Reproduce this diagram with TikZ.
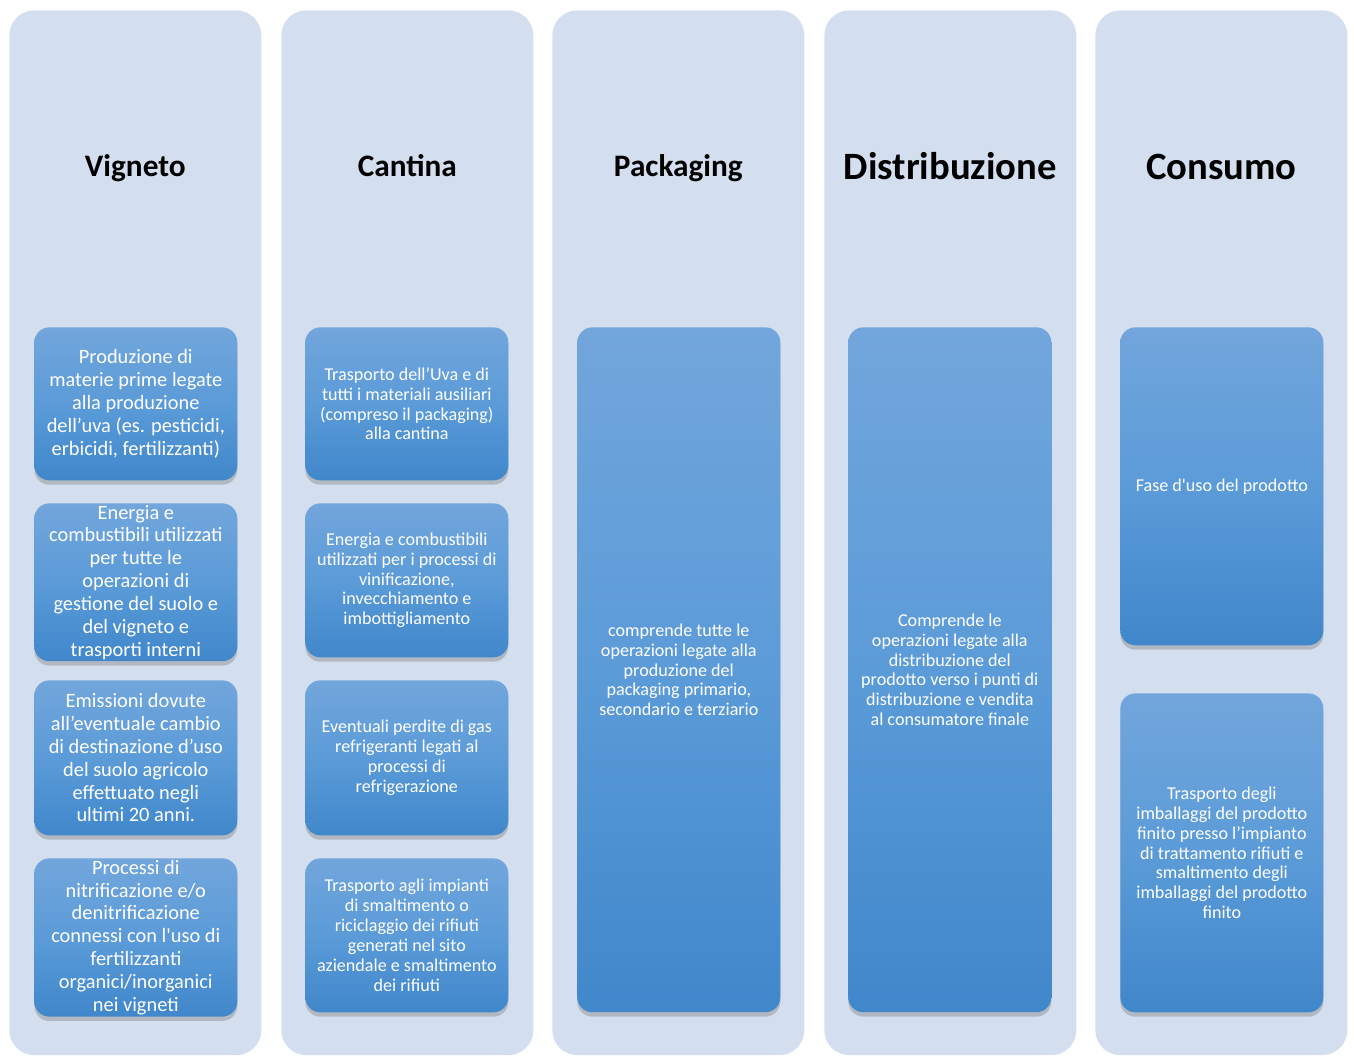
\documentclass[tikz,border=0pt]{standalone}
\usepackage{fontspec}
\setmainfont{Carlito}
\usetikzlibrary{shadows}
\definecolor{colbg}{HTML}{D3DEEF}
\definecolor{boxtop}{HTML}{72A6DC}
\definecolor{boxmid}{HTML}{5B9BD8}
\definecolor{boxbot}{HTML}{4087CB}
\begin{document}
\begin{tikzpicture}[x=0.02cm, y=-0.02cm,
    col/.style={fill=colbg, rounded corners=0.5cm, anchor=north west,
      minimum width=5.04cm, minimum height=20.9cm},
    colname/.style={anchor=base, font=\bfseries\fontsize{17.8}{21}\selectfont},
    bigname/.style={colname, font=\bfseries\fontsize{22}{26}\selectfont},
    box/.style={anchor=north west, rounded corners=0.3cm, top color=boxtop,
      bottom color=boxbot, middle color=boxmid, text=white, align=center,
      minimum width=4.06cm, inner sep=1pt,
      drop shadow={opacity=0.4, shadow xshift=0pt, shadow yshift=-2.5pt},
      font=\fontsize{10.3}{11.3}\selectfont},
    vbox/.style={box, font=\fontsize{11.6}{13}\selectfont},]
  \useasboundingbox (0,0) rectangle (1354,1057);
  \node[col] (V) at (9,10) {};
  \node[col] (C) at (281,10) {};
  \node[col] (P) at (552,10) {};
  \node[col] (D) at (824,10) {};
  \node[col] (K) at (1095,10) {};
  \path (V.north) ++(0,167) node[colname] (Vn) {Vigneto};
  \path (C.north) ++(0,167) node[colname] (Cn) {Cantina};
  \path (P.north) ++(0,167) node[colname] (Pn) {Packaging};
  \path (D.north) ++(0,170) node[bigname] (Dn) {Distribuzione};
  \path (K.north) ++(0,170) node[bigname] (Kn) {Consumo};
  \node[vbox, minimum height=3.06cm] (V1) at (34,327)
    {Produzione di\\materie prime legate\\alla produzione\\dell’uva (es. pesticidi,\\erbicidi, fertilizzanti)};
  \node[vbox, minimum height=3.08cm] (V2) at (34,503)
    {Energia e\\combustibili utilizzati\\per tutte le\\operazioni di\\gestione del suolo e\\del vigneto e\\trasporti interni};
  \node[vbox, minimum height=3.1cm] (V3) at (34,680)
    {Emissioni dovute\\all’eventuale cambio\\di destinazione d’uso\\del suolo agricolo\\effettuato negli\\ultimi 20 anni.};
  \node[vbox, minimum height=3.08cm] (V4) at (34,858)
    {Processi di\\nitrificazione e/o\\denitrificazione\\connessi con l\textquotesingle uso di\\fertilizzanti\\organici/inorganici\\nei vigneti};
  \node[box, minimum height=3.06cm] (C1) at (305,327)
    {Trasporto dell’Uva e di\\tutti i materiali ausiliari\\(compreso il packaging)\\alla cantina};
  \node[box, minimum height=3.08cm] (C2) at (305,503)
    {Energia e combustibili\\utilizzati per i processi di\\vinificazione,\\invecchiamento e\\imbottigliamento};
  \node[box, minimum height=3.1cm] (C3) at (305,680)
    {Eventuali perdite di gas\\refrigeranti legati al\\processi di\\refrigerazione};
  \node[box, minimum height=3.08cm] (C4) at (305,858)
    {Trasporto agli impianti\\di smaltimento o\\riciclaggio dei rifiuti\\generati nel sito\\aziendale e smaltimento\\dei rifiuti};
  \node[box, minimum height=13.7cm] (P1) at (577,327)
    {comprende tutte le\\operazioni legate alla\\produzione del\\packaging primario,\\secondario e terziario};
  \node[box, minimum height=13.7cm] (D1) at (848,327)
    {Comprende le\\operazioni legate alla\\distribuzione del\\prodotto verso i punti di\\distribuzione e vendita\\al consumatore finale};
  \node[box, minimum height=6.36cm] (K1) at (1120,327)
    {Fase d\textquotesingle uso del prodotto};
  \node[box, minimum height=6.38cm] (K2) at (1120,693)
    {Trasporto degli\\imballaggi del prodotto\\finito presso l’impianto\\di trattamento rifiuti e\\smaltimento degli\\imballaggi del prodotto\\finito};
\end{tikzpicture}
\end{document}
